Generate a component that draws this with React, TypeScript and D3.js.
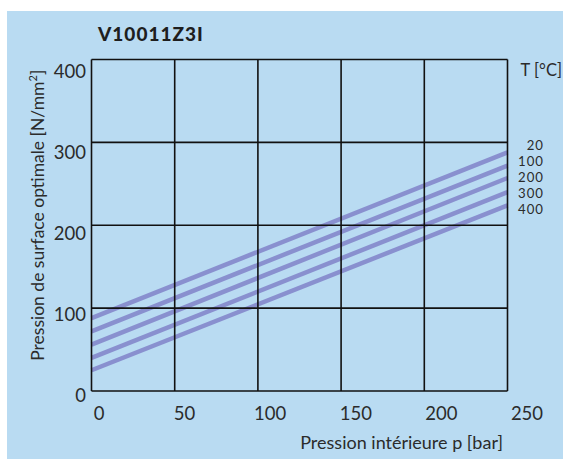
import React from 'react';
import * as d3 from 'd3';

// pressure p [bar] at the two ends of each line
const pressure = [0, 250];
// temperatures T [°C], one line each
const temperatures = ['20', '100', '200', '300', '400'];
// optimal surface pressure [N/mm²] at p = 0 and at the right edge
const surfaceAtStart = [88, 72, 56, 40, 25];
const surfaceAtEnd = [288, 272, 257, 240, 224];

const xTicks = [0, 50, 100, 150, 200, 250];
const yTicks = [0, 100, 200, 300, 400];

const W = 563;
const H = 459;
const margin = { left: 91.5, top: 59.5, right: 55.5, bottom: 68 };
const font = 'Lato, "Open Sans", sans-serif';
const ink = '#2b2b2b';

export default function App() {
  const x = d3.scaleLinear().domain([0, 250]).range([margin.left, W - margin.right]);
  const y = d3.scaleLinear().domain([0, 400]).range([H - margin.bottom, margin.top]);

  // tick labels in the original sit a bit right of / below the grid lines
  const xLabel = d3.scaleLinear().domain([0, 250]).range([99, 527]);
  const yLabel = d3.scaleLinear().domain([0, 400]).range([395, 71]);

  const line = d3
    .line<[number, number]>()
    .x(d => x(d[0]))
    .y(d => y(d[1]));

  const series = temperatures.map((t, i) => ({
    t,
    pts: pressure.map((p, j) => [p, j === 0 ? surfaceAtStart[i] : surfaceAtEnd[i]] as [number, number]),
  }));

  return (
    <svg
      width={W}
      height={H}
      style={{ position: 'absolute', left: 0, top: 0, display: 'block' }}
      fontFamily={font}
    >
      <rect x={7} y={11} width={W - 7} height={H - 11} fill="#b9dbf2" />

      <text x={98} y={41} fontSize={19} fontWeight="900" letterSpacing={1} fill="#1e1e1e">
        V10011Z3I
      </text>

      {/* data lines */}
      {series.map(s => (
        <path key={s.t} d={line(s.pts) ?? ''} fill="none" stroke="#8990cf" strokeWidth={4.5} />
      ))}

      {/* grid */}
      {xTicks.map(v => (
        <line key={'gx' + v} x1={x(v)} x2={x(v)} y1={y(0)} y2={y(400)} stroke="#111" strokeWidth={1.6} />
      ))}
      {yTicks.map(v => (
        <line key={'gy' + v} x1={x(0)} x2={x(250)} y1={y(v)} y2={y(v)} stroke="#111" strokeWidth={1.6} />
      ))}

      {/* tick labels */}
      {xTicks.map(v => (
        <text key={'tx' + v} x={xLabel(v)} y={413} textAnchor="middle" dominantBaseline="central" fontSize={18.5} fill={ink}>
          {v}
        </text>
      ))}
      {yTicks.map(v => (
        <text key={'ty' + v} x={86} y={yLabel(v)} textAnchor="end" dominantBaseline="central" fontSize={18.5} fill={ink}>
          {v}
        </text>
      ))}

      {/* axis titles */}
      <text x={503} y={449} textAnchor="end" fontSize={18} fill={ink}>
        Pression intérieure p [bar]
      </text>
      <text
        transform={`translate(44,${(y(0) + y(400)) / 2 - 10}) rotate(-90)`}
        textAnchor="middle"
        fontSize={17.5}
        fill={ink}
      >
        Pression de surface optimale [N/mm<tspan dy={-7} fontSize={11}>2</tspan>
        <tspan dy={7}>]</tspan>
      </text>

      {/* temperature legend */}
      <text x={562} y={70} textAnchor="end" dominantBaseline="central" fontSize={16.5} fill={ink}>
        T [°C]
      </text>
      {series.map((s, i) => (
        <text
          key={'lg' + s.t}
          x={544}
          y={y(surfaceAtEnd[0]) - 7 + i * 16}
          textAnchor="end"
          dominantBaseline="central"
          fontSize={13.2}
          letterSpacing={1}
          fill={ink}
        >
          {s.t}
        </text>
      ))}
    </svg>
  );
}
